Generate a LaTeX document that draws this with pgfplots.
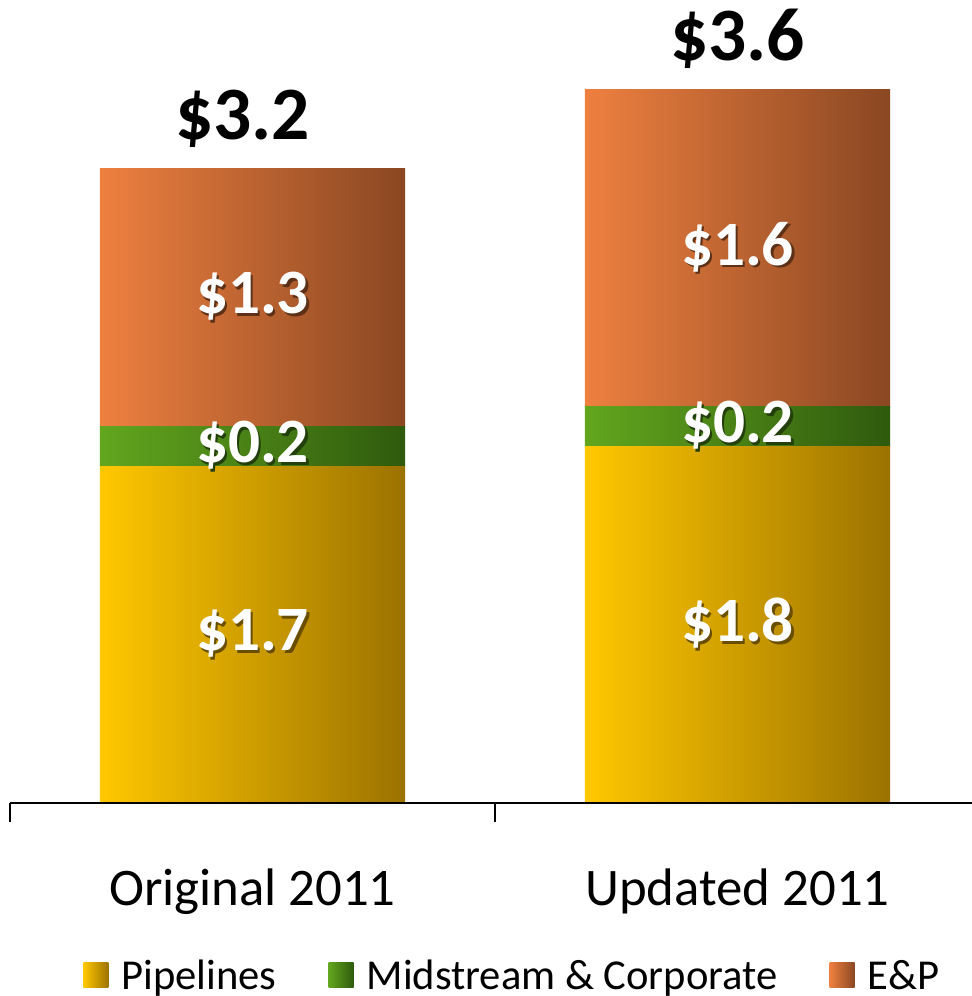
\documentclass[border=0pt]{standalone}
\usepackage{pgfplots}
\pgfplotsset{compat=1.18}
\usepackage{fontspec}
\setmainfont{Carlito}

\definecolor{pipeL}{HTML}{FFC800}
\definecolor{pipeM}{HTML}{E9AD00}
\definecolor{pipeR}{HTML}{9C7200}
\definecolor{midL}{HTML}{62A61E}
\definecolor{midM}{HTML}{4F8C18}
\definecolor{midR}{HTML}{2F5A0D}
\definecolor{epL}{HTML}{EE8040}
\definecolor{epM}{HTML}{CF6E34}
\definecolor{epR}{HTML}{8A4722}

% white value label over a darker offset copy (drop shadow)
\newcommand{\shtext}[2]{\makebox[0pt][l]{\hspace*{1.3pt}\raisebox{-1.3pt}{\textcolor{#1}{#2}}}\textcolor{white}{#2}}

\pgfplotsset{
  /pgf/number format/assume math mode=true,
  geom/.style={
    at={(5pt,96.5pt)}, anchor=south west,
    scale only axis, width=481pt, height=401.5pt,
    xmin=-0.5, xmax=1.4835, ymin=0, ymax=4.053, clip=false},
  barstack/.style={geom, hide axis, ybar stacked, bar width=0.629, bar shift=0pt},
  pipe/.style={left color=pipeL, middle color=pipeM, right color=pipeR},
  mid/.style={left color=midL, middle color=midM, right color=midR},
  ep/.style={left color=epL, middle color=epM, right color=epR},
  legsq/.style={legend image code/.code={%
      \path[##1, draw=none] (0pt,-5.5pt) rectangle (12.5pt,7pt);}},
  % segment value, set in the middle of its segment
  seg/.style={
    draw=none,
    point meta=explicit,
    nodes near coords={\shtext{#1}{\$\pgfmathprintnumber[fixed,fixed zerofill,precision=1]{\pgfplotspointmeta}}},
    every node near coord/.append style={
      anchor=center, inner sep=0pt,
      font=\bfseries\fontsize{31.6}{36}\selectfont},
  },
}

\begin{document}
\begin{tikzpicture}
\useasboundingbox (0,0) rectangle (486pt,498pt);

% Original 2011
\begin{axis}[barstack]
\addplot[seg=pipeM!45!black, pipe] coordinates {(0,1.7) [1.7]};
\addplot[seg=midM!45!black, mid] coordinates {(0,0.2) [0.2]};
\addplot[seg=epM!45!black, ep] coordinates {(0,1.3) [1.3]};
\end{axis}

% Updated 2011
\begin{axis}[barstack]
\addplot[seg=pipeM!45!black, pipe] coordinates {(1,1.8) [1.8]};
\addplot[seg=midM!45!black, mid] coordinates {(1,0.2) [0.2]};
\addplot[seg=epM!45!black, ep] coordinates {(1,1.6) [1.6]};
\end{axis}

% category axis, totals and legend
\begin{axis}[
  geom,
  axis x line*=bottom, axis y line=none,
  axis line style={black, line width=0.75pt},
  xtick={0,1}, xticklabels={Original 2011, Updated 2011},
  major tick length=0pt,
  minor xtick={-0.5,0.5,1.5}, minor tick length=9.5pt,
  tick align=outside,
  minor tick style={black, line width=0.75pt},
  xticklabel style={font=\fontsize{26.4}{30}\selectfont, anchor=base, yshift=-51pt, inner sep=0pt},
  legend columns=3,
  legend style={at={(0.5234,-0.2155)}, anchor=center, draw=none, fill=none,
    font=\fontsize{21.3}{25}\selectfont,
    /tikz/every even column/.append style={column sep=24pt},
    /tikz/every odd column/.append style={column sep=4.5pt}},
]
\addlegendimage{legsq, pipe}
\addlegendimage{legsq, mid}
\addlegendimage{legsq, ep}
\addplot[forget plot, draw=none, mark=none, point meta=y,
  visualization depends on={rawx \as \rawx},
  nodes near coords={\$\pgfmathprintnumber[fixed,fixed zerofill,precision=1]{\pgfplotspointmeta}},
  every node near coord/.append style={anchor=base, inner sep=0pt, yshift=14.5pt,
    xshift={(\rawx-1)*5pt},
    font=\bfseries\fontsize{37.7}{42}\selectfont, text=black}]
  coordinates {(0,3.2) (1,3.6)};
\legend{Pipelines, Midstream \& Corporate, E\&P}
\end{axis}
\end{tikzpicture}
\end{document}
